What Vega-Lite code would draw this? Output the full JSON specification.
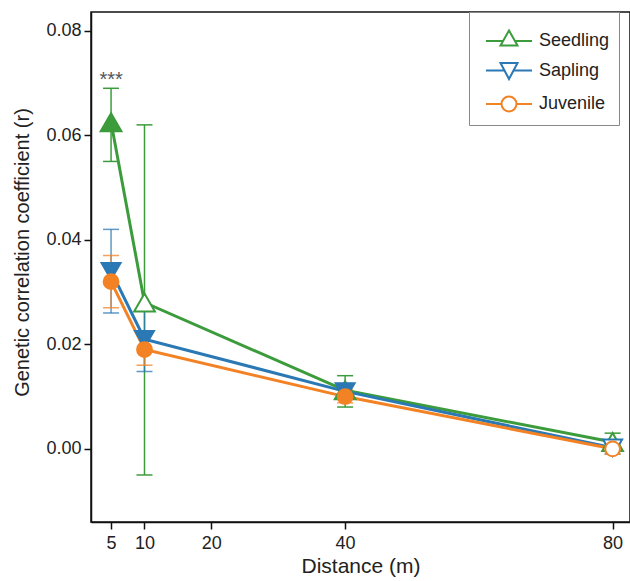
{
  "$schema": "https://vega.github.io/schema/vega-lite/v6.json",
  "autosize": {"type": "none"},
  "width": 539,
  "height": 510,
  "padding": {"left": 91, "top": 12, "right": 0, "bottom": 59},
  "background": "white",
  "config": {
    "font": "Liberation Sans",
    "view": {"stroke": "#111", "strokeWidth": 1.5},
    "axis": {
      "grid": false,
      "domainColor": "#111",
      "domainWidth": 1.5,
      "tickColor": "#111",
      "tickWidth": 1.5,
      "tickSize": 7,
      "labelFontSize": 18,
      "labelColor": "#222",
      "titleFontSize": 20,
      "titleFontWeight": "normal",
      "titleColor": "#222"
    }
  },
  "datasets": {
    "pts": [
      {"stage": "Seedling", "d": 5, "r": 0.0625, "lo": 0.055, "hi": 0.069, "filled": true},
      {"stage": "Seedling", "d": 10, "r": 0.028, "lo": -0.005, "hi": 0.062, "filled": false},
      {"stage": "Seedling", "d": 40, "r": 0.0112, "lo": 0.008, "hi": 0.014, "filled": true},
      {"stage": "Seedling", "d": 80, "r": 0.0013, "lo": -0.0005, "hi": 0.003, "filled": false},
      {"stage": "Sapling", "d": 5, "r": 0.034, "lo": 0.026, "hi": 0.042, "filled": true},
      {"stage": "Sapling", "d": 10, "r": 0.021, "lo": 0.0148, "hi": 0.027, "filled": true},
      {"stage": "Sapling", "d": 40, "r": 0.011, "lo": 0.0095, "hi": 0.0125, "filled": true},
      {"stage": "Sapling", "d": 80, "r": 0.0002, "lo": -0.001, "hi": 0.0015, "filled": false},
      {"stage": "Juvenile", "d": 5, "r": 0.032, "lo": 0.027, "hi": 0.037, "filled": true},
      {"stage": "Juvenile", "d": 10, "r": 0.019, "lo": 0.016, "hi": 0.0225, "filled": true},
      {"stage": "Juvenile", "d": 40, "r": 0.01, "lo": 0.0088, "hi": 0.0113, "filled": true},
      {"stage": "Juvenile", "d": 80, "r": 0.0, "lo": -0.001, "hi": 0.001, "filled": false}
    ],
    "stars": [
      {"d": 5, "r": 0.0705, "label": "***"}
    ]
  },
  "layer": [
    {
      "mark": {"type": "rule", "stroke": "#aaaaaa", "strokeWidth": 1.5, "strokeDash": [7, 5]},
      "encoding": {"y": {"datum": 0, "type": "quantitative"}}
    },
    {
      "data": {"name": "pts"},
      "mark": {"type": "rule", "strokeWidth": 1.5},
      "encoding": {
        "x": {"field": "d", "type": "quantitative", "scale": {"domain": [2, 82.6], "nice": false, "zero": false},
              "axis": {"values": [5, 10, 20, 40, 80], "title": "Distance (m)", "labelPadding": 5, "titlePadding": 3, "titleFontSize": 21}},
        "y": {"field": "lo", "type": "quantitative", "scale": {"domain": [-0.014, 0.0836], "nice": false, "zero": false},
              "axis": {"values": [0, 0.02, 0.04, 0.06, 0.08], "format": ".2f", "title": "Genetic correlation coefficient (r)", "labelPadding": 3, "titleX": -59, "titleY": 240}},
        "y2": {"field": "hi"},
        "stroke": {"condition": [{"test": "datum.stage === 'Seedling'", "value": "#3c9c3c"}, {"test": "datum.stage === 'Sapling'", "value": "#2a78b4"}], "value": "#f28224"},
        "opacity": {"condition": {"test": "datum.stage === 'Seedling'", "value": 1}, "value": 0.75}
      }
    },
    {
      "data": {"name": "pts"},
      "mark": {"type": "tick", "orient": "horizontal", "size": 16, "thickness": 1.5},
      "encoding": {
        "x": {"field": "d", "type": "quantitative"},
        "y": {"field": "lo", "type": "quantitative"},
        "color": {"condition": [{"test": "datum.stage === 'Seedling'", "value": "#3c9c3c"}, {"test": "datum.stage === 'Sapling'", "value": "#2a78b4"}], "value": "#f28224"},
        "opacity": {"condition": {"test": "datum.stage === 'Seedling'", "value": 1}, "value": 0.75}
      }
    },
    {
      "data": {"name": "pts"},
      "mark": {"type": "tick", "orient": "horizontal", "size": 16, "thickness": 1.5},
      "encoding": {
        "x": {"field": "d", "type": "quantitative"},
        "y": {"field": "hi", "type": "quantitative"},
        "color": {"condition": [{"test": "datum.stage === 'Seedling'", "value": "#3c9c3c"}, {"test": "datum.stage === 'Sapling'", "value": "#2a78b4"}], "value": "#f28224"},
        "opacity": {"condition": {"test": "datum.stage === 'Seedling'", "value": 1}, "value": 0.75}
      }
    },
    {
      "data": {"name": "pts"},
      "mark": {"type": "line", "strokeWidth": 3},
      "encoding": {
        "x": {"field": "d", "type": "quantitative"},
        "y": {"field": "r", "type": "quantitative"},
        "order": {"field": "d"},
        "stroke": {
          "field": "stage", "type": "nominal",
          "scale": {"domain": ["Seedling", "Sapling", "Juvenile"], "range": ["#3c9c3c", "#2a78b4", "#f28224"]},
          "legend": {
            "title": " ",
            "titleFontSize": 1,
            "titlePadding": 8,
            "orient": "none",
            "legendX": 378,
            "legendY": 0,
            "padding": 9,
            "fillColor": "white",
            "strokeColor": "#888888",
            "symbolSize": 400,
            "symbolStrokeWidth": 2,
            "symbolFillColor": "white",
            "rowPadding": 8.5,
            "labelOffset": 39,
            "labelFontSize": 18,
            "labelColor": "#222",
            "labelFont": "Liberation Sans",
            "encode": {
              "symbols": {
                "update": {
                  "shape": {"signal": "datum.value === 'Seedling' ? 'M-0.3,0H1.4M2.6,0H4.3M2,-1.05L2.85,0.45L1.15,0.45Z' : (datum.value === 'Sapling' ? 'M-0.3,0H1.55M2.45,0H4.3M1.15,-0.75L2.85,-0.75L2,0.85Z' : 'M-0.3,0H1.25M2.75,0H4.3M1.25,0A0.75,0.75,0,1,1,2.75,0A0.75,0.75,0,1,1,1.25,0Z')"},
                  "fill": {"value": "white"},
                  "strokeWidth": {"value": 2}
                }
              }
            }
          }
        }
      }
    },
    {
      "data": {"name": "pts"},
      "mark": {"type": "point", "strokeWidth": 2, "opacity": 1, "fillOpacity": 1},
      "encoding": {
        "x": {"field": "d", "type": "quantitative"},
        "y": {"field": "r", "type": "quantitative"},
        "shape": {"condition": [{"test": "datum.stage === 'Seedling'", "value": "triangle-up"}, {"test": "datum.stage === 'Sapling'", "value": "triangle-down"}], "value": "circle"},
        "size": {"condition": [{"test": "datum.stage === 'Seedling'", "value": 430}, {"test": "datum.stage === 'Sapling'", "value": 360}], "value": 220},
        "stroke": {"condition": [{"test": "datum.stage === 'Seedling'", "value": "#3c9c3c"}, {"test": "datum.stage === 'Sapling'", "value": "#2a78b4"}], "value": "#f28224"},
        "fill": {"condition": [
          {"test": "!datum.filled", "value": "white"},
          {"test": "datum.stage === 'Seedling'", "value": "#3c9c3c"},
          {"test": "datum.stage === 'Sapling'", "value": "#2a78b4"}], "value": "#f28224"}
      }
    },
    {
      "data": {"name": "stars"},
      "mark": {"type": "text", "fontSize": 20, "color": "#555", "baseline": "middle"},
      "encoding": {
        "x": {"field": "d", "type": "quantitative"},
        "y": {"field": "r", "type": "quantitative"},
        "text": {"field": "label"}
      }
    }
  ]
}
